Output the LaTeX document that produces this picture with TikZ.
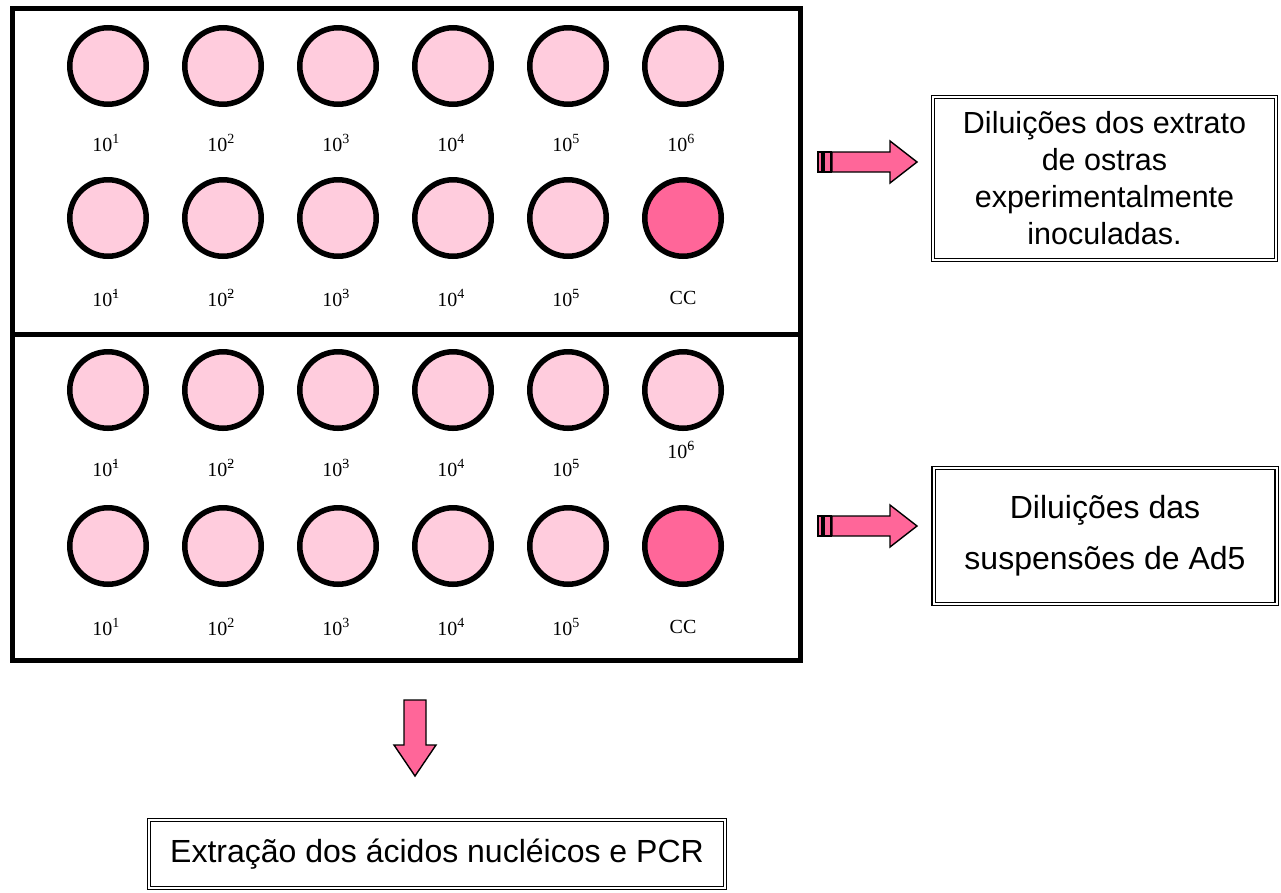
\documentclass[tikz,border=0pt]{standalone}
\usepackage{fontspec}
\setmainfont{Liberation Serif}
\newfontfamily\arialf{Liberation Sans}
\definecolor{lpink}{HTML}{FFCCDD}
\definecolor{dpink}{HTML}{FF6699}
\newcommand\ovm[1]{\rlap{\kern0.05em\rule[0.32em]{0.3em}{0.06em}}#1}
\tikzset{
  well/.style={circle, draw=black, line width=5.5pt, fill=lpink, minimum size=76.5pt, inner sep=0pt},
  ccwell/.style={well, fill=dpink},
  lab/.style={font=\fontsize{20}{23}\selectfont, inner sep=1pt},
  plate/.style={draw=black, line width=5pt},
  dbox/.style={draw=black, double=white, double distance=2pt, line width=1.3pt, align=center,
     font=\arialf\fontsize{32}{38}\selectfont, inner sep=4pt},
  blockarrow/.style={draw=black, line width=1.4pt, fill=dpink, line join=miter}
}
\begin{document}
\begin{tikzpicture}[x=1pt,y=-1pt]
\useasboundingbox (0,0) rectangle (1281,892);
% plates
\draw[plate] (12.5,8.5) rectangle (800,334);
\draw[plate] (12.5,334) rectangle (800,660);
% wells, plate 1
\foreach \i/\x in {1/108,2/223,3/338,4/453,5/568,6/683}{
  \node[well] (a\i) at (\x,66) {};
}
\foreach \i/\x in {1/108,2/223,3/338,4/453,5/568}{
  \node[well] (b\i) at (\x,218) {};
}
\node[ccwell] (b6) at (683,218) {};
% wells, plate 2
\foreach \i/\x in {1/108,2/223,3/338,4/453,5/568,6/683}{
  \node[well] (c\i) at (\x,390) {};
}
\foreach \i/\x in {1/108,2/223,3/338,4/453,5/568}{
  \node[well] (d\i) at (\x,546) {};
}
\node[ccwell] (d6) at (683,546) {};
% labels plate 1
\node[lab] (la1) at (106,143) {10\textsuperscript{1}};
\node[lab] (la2) at (221,143) {10\textsuperscript{2}};
\node[lab] (la3) at (336,143) {10\textsuperscript{3}};
\node[lab] (la4) at (451,143) {10\textsuperscript{4}};
\node[lab] (la5) at (566,143) {10\textsuperscript{5}};
\node[lab] (la6) at (681,143) {10\textsuperscript{6}};
\node[lab] (lb1) at (106,298) {10\textsuperscript{\ovm1}};
\node[lab] (lb2) at (221,298) {10\textsuperscript{\ovm2}};
\node[lab] (lb3) at (336,298) {10\textsuperscript{\ovm3}};
\node[lab] (lb4) at (451,298) {10\textsuperscript{4}};
\node[lab] (lb5) at (566,298) {10\textsuperscript{\ovm5}};
\node[lab] (lb6) at (683,298) {CC};
% labels plate 2
\node[lab] (lc1) at (106,468) {10\textsuperscript{\ovm1}};
\node[lab] (lc2) at (221,468) {10\textsuperscript{\ovm2}};
\node[lab] (lc3) at (336,468) {10\textsuperscript{\ovm3}};
\node[lab] (lc4) at (451,468) {10\textsuperscript{4}};
\node[lab] (lc5) at (566,468) {10\textsuperscript{\ovm5}};
\node[lab, fill=white, inner ysep=2pt] (lc6) at (681,450) {10\textsuperscript{\ovm6}};
\node[lab] (ld1) at (106,627) {10\textsuperscript{1}};
\node[lab] (ld2) at (221,627) {10\textsuperscript{2}};
\node[lab] (ld3) at (336,627) {10\textsuperscript{3}};
\node[lab] (ld4) at (451,627) {10\textsuperscript{4}};
\node[lab] (ld5) at (566,627) {10\textsuperscript{5}};
\node[lab] (ld6) at (683,627) {CC};
% text boxes
\node[dbox, font=\arialf\fontsize{30.5}{37}\selectfont, minimum width=343pt, minimum height=163pt] (ta) at (1104.5,178.5)
  {Diluições dos extrato\\de ostras\\experimentalmente\\inoculadas.};
\node[dbox, minimum width=343pt, minimum height=136pt] (tb) at (1105,536)
  {Diluições das\\[13pt]suspensões de Ad5};
\node[dbox, minimum width=576pt, minimum height=68pt] (tc) at (437,854)
  {Extração dos ácidos nucléicos e PCR};
% striped block arrows
\foreach \yc/\nm in {162/ra, 526/rb}{
  \draw[blockarrow] (818,\yc-10) rectangle (822,\yc+10);
  \draw[blockarrow] (824,\yc-10) rectangle (831,\yc+10);
  \draw[blockarrow] (832,\yc-10) -- (890,\yc-10) -- (890,\yc-21) -- (917,\yc)
     -- (890,\yc+21) -- (890,\yc+10) -- (832,\yc+10) -- cycle;
  \coordinate (\nm) at (917,\yc);
}
% down arrow
\draw[blockarrow] (404,700) -- (426,700) -- (426,745) -- (436,745) -- (415,776)
   -- (394,745) -- (404,745) -- cycle;
\coordinate (dn) at (415,776);
\end{tikzpicture}
\end{document}
